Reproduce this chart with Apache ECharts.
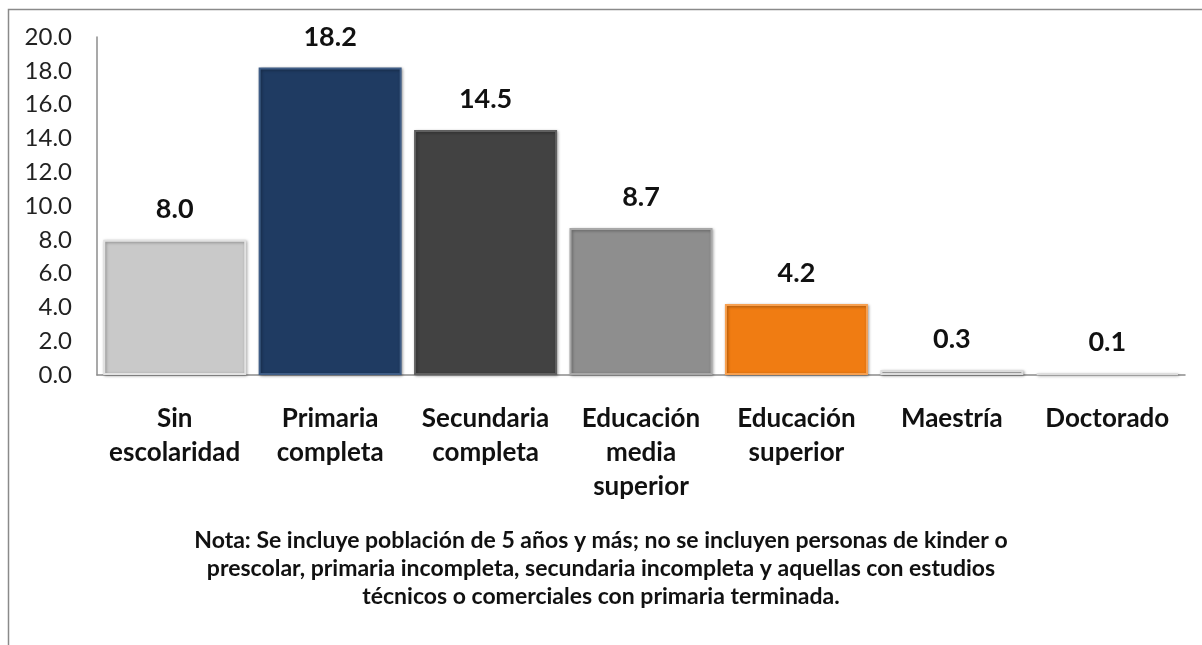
<!DOCTYPE html>
<html>
<head>
<meta charset="utf-8">
<script src="https://cdn.jsdelivr.net/npm/echarts@6/dist/echarts.min.js"></script>
<style>
html,body{margin:0;padding:0;background:#fff;}
#c{width:1202px;height:645px;}
</style>
</head>
<body>
<div id="c"></div>
<script>
const categories = ["Sin\nescolaridad", "Primaria\ncompleta", "Secundaria\ncompleta", "Educación\nmedia\nsuperior", "Educación\nsuperior", "Maestría", "Doctorado"];
const values = [8.0, 18.2, 14.5, 8.7, 4.2, 0.3, 0.1];
const barColors = ["#c9c9c9", "#1f3b62", "#424242", "#8e8e8e", "#f07c12", "#c4c4c4", "#c4c4c4"];
const edgeColors = ["#e2e2e2", "#3f5d86", "#606060", "#a8a8a8", "#f7a050", "#dcdcdc", "#dcdcdc"];
const noteLines = [
  "Nota: Se incluye población de 5 años y más; no se incluyen personas de kinder o",
  "prescolar, primaria incompleta, secundaria incompleta y aquellas con estudios",
  "técnicos o comerciales con primaria terminada."
];

const chart = echarts.init(document.getElementById('c'), null, {renderer: 'canvas'});
const font = 'Lato, "Noto Sans", sans-serif';

chart.setOption({
  animation: false,
  backgroundColor: '#ffffff',
  grid: {left: 97, right: 17, top: 37, bottom: 270, containLabel: false},
  xAxis: {
    type: 'category',
    data: categories,
    axisLine: {show: true, lineStyle: {color: '#8c8c8c', width: 1.5}},
    axisTick: {show: false},
    axisLabel: {
      interval: 0, margin: 27, color: '#111',
      fontFamily: font, fontWeight: 'bold', fontSize: 26, lineHeight: 34
    }
  },
  yAxis: {
    type: 'value', min: 0, max: 20, interval: 2,
    axisLine: {show: true, lineStyle: {color: '#8c8c8c', width: 1.5}},
    axisTick: {show: false},
    splitLine: {show: false},
    axisLabel: {
      margin: 25, color: '#222', fontFamily: font, fontSize: 24,
      formatter: v => v.toFixed(1)
    }
  },
  series: [{
    type: 'bar',
    barCategoryGap: '8%',
    data: values.map((v, i) => ({
      value: v,
      itemStyle: {
        color: barColors[i],
        borderColor: edgeColors[i],
        borderWidth: 2,
        shadowColor: 'rgba(0,0,0,0.35)',
        shadowBlur: 3,
        shadowOffsetX: 1,
        shadowOffsetY: 1
      }
    })),
    label: {
      show: true, position: 'top', distance: 17,
      color: '#111', fontFamily: font, fontWeight: 'bold', fontSize: 27,
      formatter: p => p.value.toFixed(1)
    }
  }],
  graphic: [
    {
      type: 'rect', silent: true,
      shape: {x: 8.5, y: 9.5, width: 1400, height: 900},
      style: {fill: 'none', stroke: '#8a8a8a', lineWidth: 1.5}
    },
    {
      type: 'text', x: 601, y: 527, silent: true,
      style: {
        text: noteLines.join('\n'),
        fontFamily: font, fontWeight: 'bold', fontSize: 23, lineHeight: 28,
        fill: '#111', align: 'center', verticalAlign: 'top'
      }
    }
  ]
});
</script>
</body>
</html>
